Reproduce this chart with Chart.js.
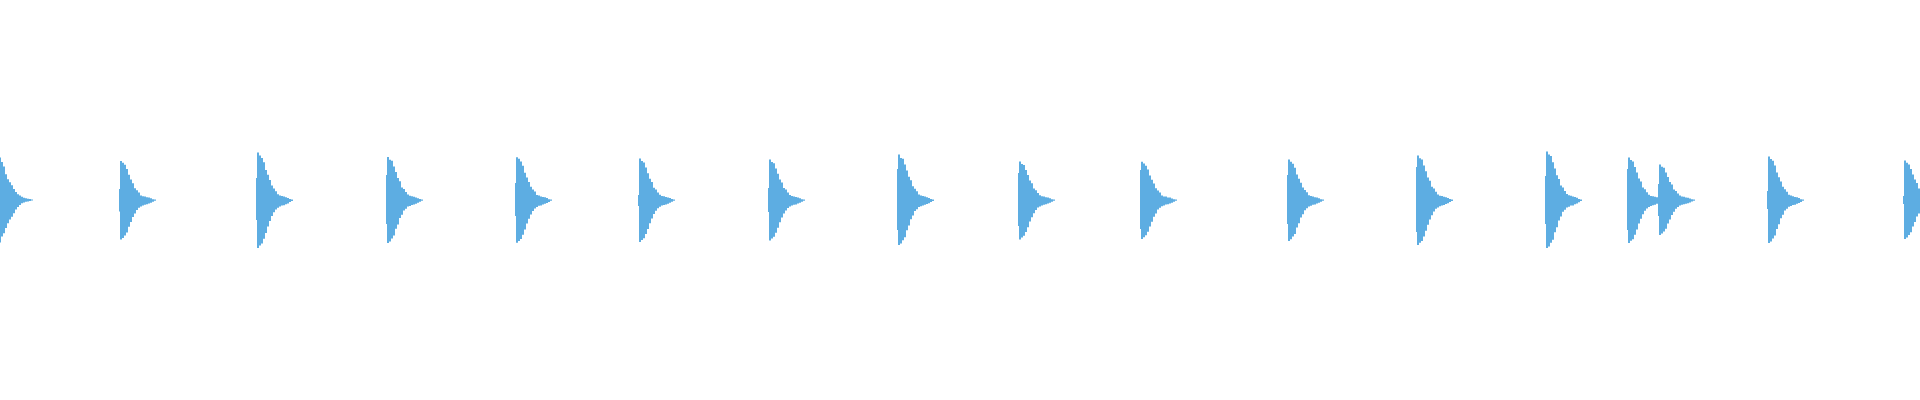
<!DOCTYPE html>
<html>
<head>
<meta charset="utf-8">
<script src="https://cdn.jsdelivr.net/npm/chart.js@4/dist/chart.umd.min.js"></script>
<style>
  html, body { margin: 0; padding: 0; background: #fff; }
  #wrap { width: 1920px; height: 400px; position: relative; }
</style>
</head>
<body>
<div id="wrap"><canvas id="wave"></canvas></div>
<script>
// Hit onsets (sample bins, 1 bin = 1 column of the strip)
const onsets = [-4, 119, 256, 386, 515, 638, 768, 897, 1018, 1140, 1287, 1416, 1545, 1627, 1658, 1767, 1903];

// Bin offsets of each envelope sample after its onset
const offsets = [0, 1, 3, 5, 7, 9, 11, 13, 15, 17, 19, 21, 23, 25, 27, 29, 31, 33, 35, 37];

// Max amplitude per sample (% of full scale), one row per hit
const upper = [
  [10, 21.5, 21.3, 19.0, 16.8, 12.9, 10.4, 8.9, 7.4, 5.5, 4.0, 2.9, 2.2, 1.6, 1.1, 0.9, 0.6, 0.5, 0.2, 0],
  [5.5, 19.5, 18.6, 17.6, 15.5, 12.6, 10.2, 8.4, 5.9, 4.9, 3.7, 2.3, 1.9, 1.8, 1.4, 1.3, 0.9, 0.4, 0.2, 0],
  [11, 23.7, 22.3, 21.0, 18.9, 15.0, 12.6, 10.0, 7.3, 5.7, 4.4, 2.9, 2.3, 2.0, 1.7, 1.4, 1.0, 0.5, 0.2, 0],
  [12.5, 21.5, 20.1, 19.6, 16.8, 14.0, 11.0, 9.4, 6.3, 5.5, 4.0, 2.7, 2.1, 1.9, 1.6, 1.3, 0.9, 0.5, 0.2, 0],
  [8.5, 21.4, 20.6, 19.2, 17.1, 13.6, 11.3, 9.0, 6.6, 5.3, 4.2, 2.5, 2.2, 1.8, 1.5, 1.4, 1.0, 0.4, 0.2, 0],
  [2.5, 20.7, 19.5, 18.8, 16.2, 13.4, 10.6, 9.0, 6.1, 5.3, 3.8, 2.6, 2.0, 1.9, 1.5, 1.3, 1.0, 0.5, 0.2, 0],
  [6, 20.2, 19.0, 18.4, 15.8, 13.1, 10.3, 8.8, 6.0, 5.2, 3.7, 2.5, 2.0, 1.7, 1.5, 1.2, 0.9, 0.4, 0.2, 0],
  [15.5, 22.7, 21.0, 20.6, 17.7, 14.7, 11.6, 9.9, 6.9, 5.6, 4.4, 2.8, 2.2, 2.0, 1.7, 1.4, 1.0, 0.5, 0.2, 0],
  [13.5, 19.2, 18.0, 17.5, 15.0, 12.5, 9.8, 8.4, 5.7, 4.9, 3.5, 2.4, 1.9, 1.7, 1.4, 1.2, 0.9, 0.4, 0.2, 0],
  [15, 19.1, 18.3, 17.1, 15.3, 12.2, 10.1, 8.2, 5.9, 4.7, 3.7, 2.3, 1.8, 1.7, 1.3, 1.2, 0.8, 0.4, 0.2, 0],
  [12.5, 20.2, 19.1, 18.1, 16.1, 12.8, 10.6, 8.6, 6.2, 5.0, 3.9, 2.4, 2.0, 1.8, 1.4, 1.3, 0.9, 0.4, 0.2, 0],
  [16.5, 22.2, 20.9, 20.2, 17.3, 14.4, 11.3, 9.6, 6.6, 5.7, 4.1, 2.8, 2.1, 2.0, 1.6, 1.4, 1.0, 0.5, 0.2, 0],
  [12, 24.2, 22.8, 22.0, 18.9, 15.7, 12.4, 10.5, 7.2, 6.2, 4.5, 3.0, 2.4, 2.1, 1.8, 1.5, 1.1, 0.5, 0.2, 0],
  [15.5, 21.2, 20.0, 19.3, 16.5, 13.8, 10.8, 9.2, 6.3, 5.4, 3.9, 2.6, 2.0, 1.9, 1.6, 1.4, 1.0, 0.4, 0.2, 0],
  [8, 17.7, 16.6, 16.1, 13.8, 11.5, 9.0, 7.7, 5.2, 4.5, 3.3, 2.2, 1.8, 1.6, 1.3, 1.1, 0.8, 0.4, 0.2, 0],
  [4.5, 21.7, 20.5, 19.6, 17.2, 13.8, 11.4, 9.3, 6.6, 5.4, 4.1, 2.6, 2.2, 1.9, 1.5, 1.4, 1.0, 0.4, 0.2, 0],
  [2, 19.7, 18.6, 17.8, 15.5, 12.7, 10.2, 8.5, 5.8, 5.0, 3.7, 2.4, 2.0, 1.7, 1.4, 1.3, 0.9, 0.4, 0.2, 0]
];

// Min amplitude per sample
const lower = [
  [-10, -21.3, -21.2, -18.3, -16.6, -14.0, -11.6, -9.7, -8.4, -6.6, -4.7, -3.5, -2.5, -1.6, -1.2, -0.9, -0.7, -0.5, -0.3, 0],
  [-5.8, -19.8, -19.0, -17.8, -16.2, -13.4, -11.0, -8.5, -6.7, -5.0, -3.9, -3.2, -2.7, -2.4, -2.1, -1.8, -1.4, -0.9, -0.4, 0],
  [-10, -24.0, -22.8, -21.8, -19.4, -16.5, -13.2, -10.5, -8.0, -6.1, -4.7, -3.9, -3.3, -2.8, -2.6, -2.1, -1.7, -1.0, -0.5, 0],
  [-12, -21.5, -20.8, -19.2, -17.8, -14.4, -12.2, -9.0, -7.4, -5.3, -4.4, -3.3, -3.0, -2.5, -2.3, -1.9, -1.4, -0.9, -0.4, 0],
  [-8, -21.4, -20.5, -19.5, -17.4, -14.8, -11.8, -9.4, -7.2, -5.5, -4.2, -3.5, -2.9, -2.7, -2.3, -1.9, -1.5, -1.0, -0.4, 0],
  [-3, -21.0, -20.0, -19.1, -17.0, -14.5, -11.6, -9.2, -7.0, -5.4, -4.1, -3.4, -2.8, -2.5, -2.2, -1.9, -1.4, -0.9, -0.4, 0],
  [-6, -20.2, -19.2, -18.4, -16.4, -13.9, -11.1, -8.8, -6.8, -5.2, -4.0, -3.3, -2.7, -2.4, -2.2, -1.8, -1.4, -0.9, -0.4, 0],
  [-15, -22.5, -21.8, -20.1, -18.6, -15.1, -12.8, -9.6, -7.8, -5.5, -4.6, -3.5, -3.1, -2.7, -2.4, -2.0, -1.6, -1.0, -0.5, 0],
  [-13, -19.7, -18.7, -17.9, -16.0, -13.6, -10.8, -8.6, -6.6, -5.0, -3.8, -3.2, -2.7, -2.4, -2.1, -1.8, -1.4, -0.9, -0.4, 0],
  [-14.5, -19.5, -18.6, -17.6, -15.9, -13.2, -10.9, -8.4, -6.7, -4.8, -3.9, -3.1, -2.7, -2.3, -2.1, -1.7, -1.4, -0.9, -0.4, 0],
  [-12, -20.5, -19.6, -18.3, -17.0, -13.8, -11.6, -8.7, -7.1, -5.1, -4.1, -3.2, -2.9, -2.4, -2.3, -1.8, -1.4, -0.9, -0.4, 0],
  [-16, -22.5, -21.4, -20.5, -18.3, -15.4, -12.4, -9.8, -7.6, -5.7, -4.4, -3.7, -3.1, -2.7, -2.5, -2.0, -1.6, -1.0, -0.5, 0],
  [-12, -24.0, -23.2, -21.4, -19.9, -16.1, -13.6, -10.2, -8.3, -5.9, -4.9, -3.8, -3.4, -2.8, -2.7, -2.1, -1.7, -1.1, -0.5, 0],
  [-15, -21.5, -20.4, -19.6, -17.4, -14.8, -11.8, -9.4, -7.1, -5.4, -4.2, -3.5, -3.0, -2.6, -2.4, -1.9, -1.5, -1.0, -0.4, 0],
  [-8, -17.5, -16.8, -15.8, -14.4, -11.8, -9.8, -7.5, -5.9, -4.4, -3.5, -2.8, -2.4, -2.1, -1.9, -1.6, -1.2, -0.8, -0.4, 0],
  [-4.5, -21.5, -20.7, -19.3, -17.8, -14.5, -12.1, -9.1, -7.4, -5.3, -4.4, -3.4, -3.0, -2.5, -2.4, -1.9, -1.5, -1.0, -0.4, 0],
  [-2, -19.5, -18.8, -17.5, -16.1, -13.2, -11.0, -8.3, -6.7, -4.9, -3.9, -3.1, -2.7, -2.3, -2.2, -1.7, -1.4, -0.9, -0.4, 0]
];

const waveColor = '#5dade2';

// lay every hit's samples on one time line; a hit is cut short where the next one starts
function buildSeries(rows) {
  const pts = [];
  onsets.forEach((start, k) => {
    const next = k < onsets.length - 1 ? onsets[k + 1] : Infinity;
    for (let j = 0; j < offsets.length; j++) {
      const x = start + offsets[j];
      if (x >= next) break;
      pts.push({ x: x, y: rows[k][j] });
    }
  });
  return pts;
}

function waveSet(rows) {
  return {
    data: buildSeries(rows),
    stepped: 'before',   // each sample holds until the next one
    fill: 'origin',
    backgroundColor: waveColor,
    borderColor: 'rgba(0,0,0,0)',
    borderWidth: 0,
    pointRadius: 0,
    pointHoverRadius: 0
  };
}

new Chart(document.getElementById('wave').getContext('2d'), {
  type: 'line',
  data: { datasets: [waveSet(upper), waveSet(lower)] },
  options: {
    responsive: true,
    maintainAspectRatio: false,
    animation: false,
    layout: { padding: 0 },
    scales: {
      x: { type: 'linear', min: 0, max: 1920, display: false },
      y: { min: -100, max: 100, display: false }
    },
    plugins: { legend: { display: false }, tooltip: { enabled: false } }
  }
});
</script>
</body>
</html>
